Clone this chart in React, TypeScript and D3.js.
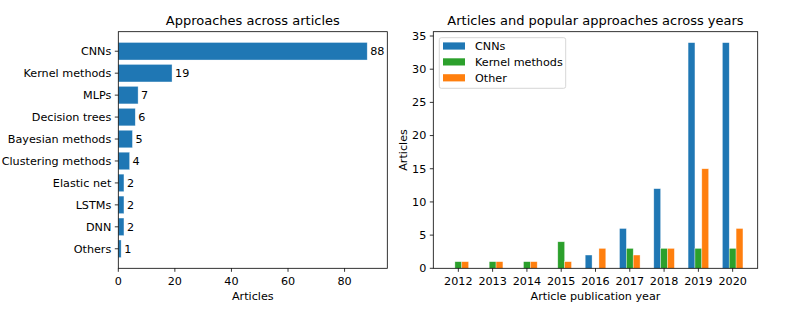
import React from "react";
import { scaleLinear, scaleBand } from "d3";

const approaches = [
  "CNNs",
  "Kernel methods",
  "MLPs",
  "Decision trees",
  "Bayesian methods",
  "Clustering methods",
  "Elastic net",
  "LSTMs",
  "DNN",
  "Others",
];
const approachCounts = [88, 19, 7, 6, 5, 4, 2, 2, 2, 1];
const countTicks = [0, 20, 40, 60, 80];

const years = ["2012", "2013", "2014", "2015", "2016", "2017", "2018", "2019", "2020"];
const seriesNames = ["CNNs", "Kernel methods", "Other"];
const cnnByYear = [0, 0, 0, 0, 2, 6, 12, 34, 34];
const kernelByYear = [1, 1, 1, 4, 0, 3, 3, 3, 3];
const otherByYear = [1, 1, 1, 1, 3, 2, 3, 15, 6];
const yearTicks = [0, 5, 10, 15, 20, 25, 30, 35];

const colors = ["#1f77b4", "#2ca02c", "#ff7f0e"];
const font = "'DejaVu Sans', sans-serif";
const fs = 11.2;
const W = 789;
const H = 316;

function LeftChart() {
  const x0 = 118.3, x1 = 387.3, y0 = 31.7, y1 = 268.3;
  const x = scaleLinear().domain([0, 95.1]).range([x0, x1]);
  // continuous index scale to mirror matplotlib's padded category axis
  const y = scaleLinear().domain([-0.89, 9.89]).range([y0, y1]);
  const barH = 0.8;
  return (
    <g>
      <text x={(x0 + x1) / 2} y={25} textAnchor="middle" fontSize={13} fontFamily={font}>
        Approaches across articles
      </text>
      {approaches.map((name, i) => (
        <g key={name}>
          <rect
            x={x(0)}
            y={y(i - barH / 2)}
            width={x(approachCounts[i]) - x(0)}
            height={y(i + barH / 2) - y(i - barH / 2)}
            fill={colors[0]}
            stroke="#fff"
            strokeOpacity={0.6}
            strokeWidth={0.6}
          />
          <text
            x={x(approachCounts[i]) + 3}
            y={y(i)}
            dy="0.35em"
            fontSize={fs}
            fontFamily={font}
          >
            {approachCounts[i]}
          </text>
          <line x1={x0} x2={x0 - 3.5} y1={y(i)} y2={y(i)} stroke="#000" strokeWidth={0.8} />
          <text
            x={x0 - 7}
            y={y(i)}
            dy="0.35em"
            textAnchor="end"
            fontSize={fs}
            fontFamily={font}
          >
            {name}
          </text>
        </g>
      ))}
      {countTicks.map((t) => (
        <g key={t}>
          <line x1={x(t)} x2={x(t)} y1={y1} y2={y1 + 3.5} stroke="#000" strokeWidth={0.8} />
          <text x={x(t)} y={y1 + 16.3} textAnchor="middle" fontSize={fs} fontFamily={font}>
            {t}
          </text>
        </g>
      ))}
      <text x={(x0 + x1) / 2} y={299.5} textAnchor="middle" fontSize={fs} fontFamily={font}>
        Articles
      </text>
      <rect x={x0} y={y0} width={x1 - x0} height={y1 - y0} fill="none" stroke="#000" strokeWidth={0.8} />
    </g>
  );
}

function RightChart() {
  const x0 = 433.3, x1 = 757.7, y0 = 31.7, y1 = 268.3;
  const x = scaleLinear().domain([-0.73, 8.73]).range([x0, x1]);
  const y = scaleLinear().domain([0, 35.65]).range([y1, y0]);
  const inner = scaleBand().domain(seriesNames).range([-0.3, 0.3]);
  const series = [cnnByYear, kernelByYear, otherByYear];
  return (
    <g>
      <text x={(x0 + x1) / 2} y={25} textAnchor="middle" fontSize={13} fontFamily={font}>
        Articles and popular approaches across years
      </text>
      {series.map((vals, s) =>
        vals.map((v, i) =>
          v > 0 ? (
            <rect
              key={`${s}-${i}`}
              x={x(i + (inner(seriesNames[s]) ?? 0))}
              y={y(v)}
              width={x(inner.bandwidth()) - x(0)}
              height={y(0) - y(v)}
              fill={colors[s]}
              stroke="#fff"
              strokeOpacity={0.6}
              strokeWidth={0.6}
            />
          ) : null
        )
      )}
      {years.map((yr, i) => (
        <g key={yr}>
          <line x1={x(i)} x2={x(i)} y1={y1} y2={y1 + 3.5} stroke="#000" strokeWidth={0.8} />
          <text x={x(i)} y={y1 + 16.5} textAnchor="middle" fontSize={fs} fontFamily={font}>
            {yr}
          </text>
        </g>
      ))}
      {yearTicks.map((t) => (
        <g key={t}>
          <line x1={x0} x2={x0 - 3.5} y1={y(t)} y2={y(t)} stroke="#000" strokeWidth={0.8} />
          <text x={x0 - 7} y={y(t)} dy="0.35em" textAnchor="end" fontSize={fs} fontFamily={font}>
            {t}
          </text>
        </g>
      ))}
      <text
        transform={`translate(${406.5},${(y0 + y1) / 2}) rotate(-90)`}
        textAnchor="middle"
        fontSize={fs}
        fontFamily={font}
      >
        Articles
      </text>
      <text x={(x0 + x1) / 2} y={299.5} textAnchor="middle" fontSize={fs} fontFamily={font}>
        Article publication year
      </text>
      <rect x={x0} y={y0} width={x1 - x0} height={y1 - y0} fill="none" stroke="#000" strokeWidth={0.8} />
      {/* Legend */}
      <g>
        <rect
          x={439.3}
          y={37.7}
          width={126.4}
          height={50.6}
          rx={2}
          fill="#fff"
          fillOpacity={0.8}
          stroke="#ccc"
          strokeWidth={0.8}
        />
        {seriesNames.map((name, s) => (
          <g key={name} transform={`translate(443,${46 + s * 15.9})`}>
            <rect x={0} y={-3.6} width={22} height={7.2} fill={colors[s]} />
            <text x={32} y={0} dy="0.35em" fontSize={fs} fontFamily={font}>
              {name}
            </text>
          </g>
        ))}
      </g>
    </g>
  );
}

export default function App() {
  return (
    <svg width={W} height={H} style={{ display: "block", position: "absolute", left: 0, top: 0, background: "#fff" }}>
      <LeftChart />
      <RightChart />
    </svg>
  );
}
